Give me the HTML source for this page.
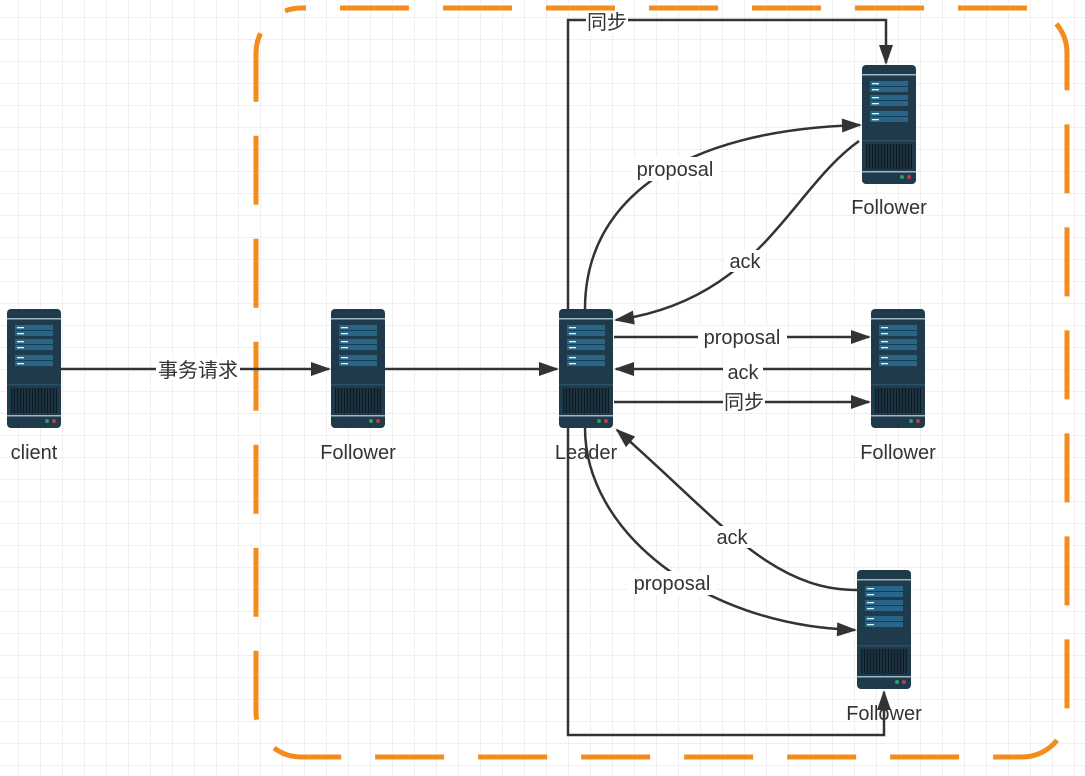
<!DOCTYPE html>
<html><head><meta charset="utf-8"><style>
html,body{margin:0;padding:0;background:#fff;}
svg{display:block;}
text{font-family:"Liberation Sans","Noto Sans CJK SC",sans-serif;font-size:20px;fill:#333;}
</style></head><body>
<svg width="1085" height="776" viewBox="0 0 1085 776" xmlns="http://www.w3.org/2000/svg">
<defs>
<pattern id="grid" x="18" y="17" width="22" height="22" patternUnits="userSpaceOnUse">
<path d="M0 0H22M0 0V22" stroke="#ececec" stroke-width="1.5" fill="none"/>
</pattern>
<marker id="ah" viewBox="0 0 20 14" refX="18" refY="7" markerWidth="20" markerHeight="14" markerUnits="userSpaceOnUse" orient="auto" overflow="visible">
<path d="M0 0 L20 7 L0 14 Z" fill="#333"/>
</marker>
<g id="srv">
<rect x="0" y="0" width="54" height="119" rx="4" fill="#1f3a4a"/>
<rect x="0" y="9" width="54" height="1.5" fill="#9fb6c4"/>
<rect x="8" y="16" width="38" height="5" fill="#27668a"/>
<rect x="8" y="22" width="38" height="5" fill="#27668a"/>
<rect x="8" y="30" width="38" height="5" fill="#27668a"/>
<rect x="8" y="36" width="38" height="5" fill="#27668a"/>
<rect x="8" y="46" width="38" height="5" fill="#27668a"/>
<rect x="8" y="52" width="38" height="5" fill="#27668a"/>
<rect x="10" y="18" width="7" height="1.3" fill="#cfe"/>
<rect x="10" y="24" width="7" height="1.3" fill="#cfe"/>
<rect x="10" y="32" width="7" height="1.3" fill="#cfe"/>
<rect x="10" y="38" width="7" height="1.3" fill="#cfe"/>
<rect x="10" y="48" width="7" height="1.3" fill="#cfe"/>
<rect x="10" y="54" width="7" height="1.3" fill="#cfe"/>
<rect x="0" y="75" width="54" height="1.5" fill="#2a5066"/>
<rect x="4" y="79" width="46" height="25" fill="#0e1c26"/>
<path d="M6 79V104M9 79V104M12 79V104M15 79V104M18 79V104M21 79V104M24 79V104M27 79V104M30 79V104M33 79V104M36 79V104M39 79V104M42 79V104M45 79V104M48 79V104" stroke="#2a4555" stroke-width="1"/>
<rect x="0" y="106" width="54" height="1.5" fill="#9fb6c4"/>
<circle cx="40" cy="112" r="2" fill="#2e9e6a"/>
<circle cx="47" cy="112" r="2" fill="#c0394f"/>
</g>
</defs>
<rect width="1085" height="776" fill="url(#grid)"/>
<rect x="256" y="8" width="811" height="749" rx="45" fill="none" stroke="#f28c1c" stroke-width="5" stroke-dasharray="69 34" stroke-dashoffset="-39"/>

<use href="#srv" x="7" y="309"/>
<use href="#srv" x="331" y="309"/>
<use href="#srv" x="559" y="309"/>
<use href="#srv" x="862" y="65"/>
<use href="#srv" x="871" y="309"/>
<use href="#srv" x="857" y="570"/>

<text x="34" y="459" text-anchor="middle">client</text>
<text x="358" y="459" text-anchor="middle">Follower</text>
<text x="586" y="459" text-anchor="middle">Leader</text>
<text x="889" y="214" text-anchor="middle">Follower</text>
<text x="898" y="459" text-anchor="middle">Follower</text>
<text x="884" y="720" text-anchor="middle">Follower</text>

<g stroke="#333" stroke-width="2.5" fill="none">
<path d="M61 369H329" marker-end="url(#ah)"/>
<path d="M385 369H557" marker-end="url(#ah)"/>
<path d="M568 309V20H886V63" marker-end="url(#ah)"/>
<path d="M568 428V735H884V692" marker-end="url(#ah)"/>
<path d="M585 309C585 200 680 130 860 125" marker-end="url(#ah)"/>
<path d="M859 141C790 190 760 300 616 320" marker-end="url(#ah)"/>
<path d="M614 337H869" marker-end="url(#ah)"/>
<path d="M871 369H616" marker-end="url(#ah)"/>
<path d="M614 402H869" marker-end="url(#ah)"/>
<path d="M585 428C585 530 700 625 855 630" marker-end="url(#ah)"/>
<path d="M857 590C770 590 720 520 617 430" marker-end="url(#ah)"/>
</g>

<g>
<rect x="156" y="358" width="84" height="22" fill="#fff"/>
<text x="198" y="377" text-anchor="middle">事务请求</text>
<rect x="586" y="11" width="42" height="22" fill="#fff"/>
<text x="607" y="29" text-anchor="middle">同步</text>
<rect x="631" y="157" width="89" height="24" fill="#fff"/>
<text x="675" y="176" text-anchor="middle">proposal</text>
<rect x="725" y="250" width="40" height="22" fill="#fff"/>
<text x="745" y="268" text-anchor="middle">ack</text>
<rect x="698" y="326" width="89" height="22" fill="#fff"/>
<text x="742" y="344" text-anchor="middle">proposal</text>
<rect x="723" y="360" width="40" height="22" fill="#fff"/>
<text x="743" y="379" text-anchor="middle">ack</text>
<rect x="723" y="391" width="42" height="22" fill="#fff"/>
<text x="744" y="409" text-anchor="middle">同步</text>
<rect x="712" y="526" width="40" height="22" fill="#fff"/>
<text x="732" y="544" text-anchor="middle">ack</text>
<rect x="627" y="571" width="89" height="24" fill="#fff"/>
<text x="672" y="590" text-anchor="middle">proposal</text>
</g>
</svg>
</body></html>
